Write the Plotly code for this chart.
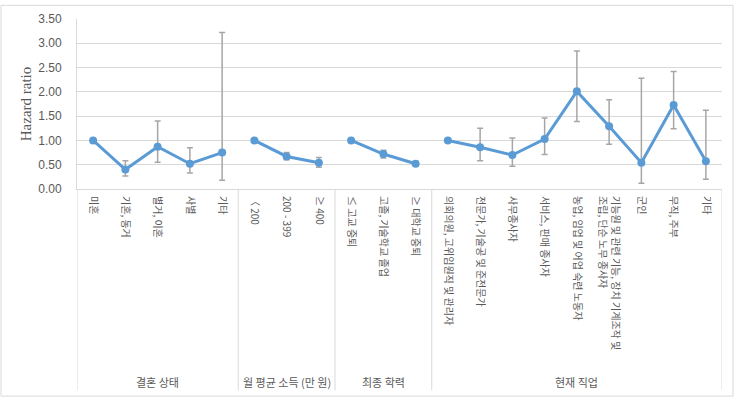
import plotly.graph_objects as go

groups = ["결혼 상태", "월 평균 소득 (만 원)", "최종 학력", "현재 직업"]
group_sizes = [5, 3, 3, 9]
categories = [
    "미혼", "기혼, 동거", "별거, 이혼", "사별", "기타",
    "〈 200", "200 - 399", "≥ 400",
    "≤ 고교 중퇴", "고졸, 기술학교 졸업", "≥ 대학교 중퇴",
    "의회의원, 고위임원직 및 관리자", "전문가, 기술공 및 준전문가", "사무종사자",
    "서비스, 판매 종사자", "농업, 임업 및 어업 숙련 노동자",
    "기능원 및 관련 기능, 장치 기계조작 및<br>조립, 단순 노무 종사자",
    "군인", "무직, 주부", "기타",
]
hazard = [1.00, 0.40, 0.87, 0.52, 0.75,
          1.00, 0.67, 0.54,
          1.00, 0.72, 0.52,
          1.00, 0.86, 0.70, 1.03, 2.01, 1.29, 0.54, 1.73, 0.57]
lower = [1.00, 0.27, 0.55, 0.33, 0.18,
         1.00, 0.60, 0.45,
         1.00, 0.64, 0.48,
         1.00, 0.58, 0.47, 0.71, 1.39, 0.92, 0.12, 1.24, 0.20]
upper = [1.00, 0.58, 1.40, 0.85, 3.22,
         1.00, 0.75, 0.65,
         1.00, 0.80, 0.57,
         1.00, 1.25, 1.05, 1.46, 2.84, 1.84, 2.28, 2.42, 1.62]

LINE = "#5B9BD5"
GRID = "#D9D9D9"
TXT = "#595959"

fig = go.Figure()
start = 0
for g, n in zip(groups, group_sizes):
    idx = list(range(start, start + n))
    fig.add_trace(go.Scatter(
        x=idx,
        y=[hazard[i] for i in idx],
        mode="lines+markers",
        line=dict(color=LINE, width=3),
        marker=dict(color=LINE, size=8),
        error_y=dict(
            type="data",
            array=[upper[i] - hazard[i] for i in idx],
            arrayminus=[hazard[i] - lower[i] for i in idx],
            color="#A6A6A6", thickness=1.5, width=3,
        ),
        showlegend=False,
        hoverinfo="skip",
    ))
    start += n

# plot height 174 px; bottom of category area at ~395 px -> paper y
ybot = -(395 - 189) / 174
bounds = [-0.5]
acc = -0.5
for n in group_sizes:
    acc += n
    bounds.append(acc)
shapes = []
for b in bounds:
    shapes.append(dict(type="line", xref="x", yref="paper", x0=b, x1=b,
                       y0=0, y1=ybot, line=dict(color=GRID, width=1)))
# outer chart border
shapes.append(dict(type="rect", xref="paper", yref="paper",
                   x0=-76/645, x1=(733-77)/645, y0=(189-401)/174, y1=(189-1)/174,
                   line=dict(color=GRID, width=1)))

annotations = []
start = 0
for g, n in zip(groups, group_sizes):
    center = start + (n - 1) / 2
    annotations.append(dict(x=center, xref="x", y=(189-387)/174, yref="paper",
                            text=g, showarrow=False,
                            font=dict(family="Noto Sans CJK KR", size=11, color=TXT),
                            xanchor="center", yanchor="middle"))
    start += n

fig.update_layout(
    width=736, height=402,
    margin=dict(l=77, r=14, t=15, b=213),
    paper_bgcolor="white", plot_bgcolor="white",
    shapes=shapes, annotations=annotations,
    xaxis=dict(
        range=[-0.5, 19.5], tickmode="array",
        tickvals=list(range(len(categories))), ticktext=categories,
        tickangle=90, showgrid=False, zeroline=False,
        showline=True, linecolor=GRID, linewidth=1,
        ticks="", ticklabelstandoff=4,
        tickfont=dict(family="Noto Sans CJK KR", size=10, color=TXT),
    ),
    yaxis=dict(
        range=[0, 3.5], tickvals=[0, 0.5, 1, 1.5, 2, 2.5, 3, 3.5],
        tickformat=".2f", showgrid=True, gridcolor=GRID, gridwidth=1,
        zeroline=False, showline=True, linecolor=GRID,
        ticks="", ticklabelstandoff=12,
        tickfont=dict(family="Liberation Sans", size=12, color=TXT),
        title=dict(text="Hazard ratio", standoff=2,
                   font=dict(family="Liberation Serif", size=15, color=TXT)),
    ),
)

fig.write_html("out.html")
